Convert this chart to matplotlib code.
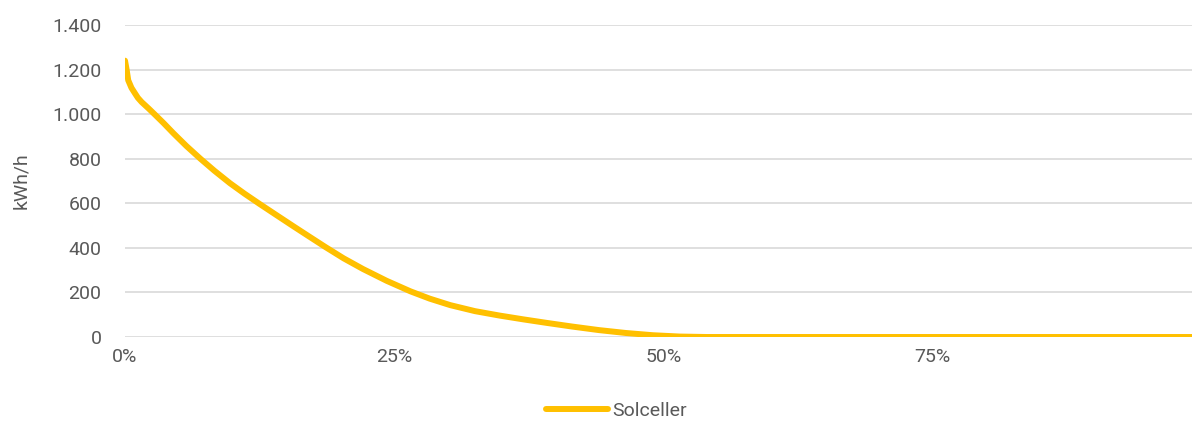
import matplotlib
matplotlib.use("Agg")
import matplotlib.pyplot as plt
from matplotlib.ticker import FuncFormatter, MultipleLocator

plt.rcParams['font.family'] = ['Roboto', 'DejaVu Sans']

# Varighedskurve for solceller (andel af årets timer, kWh/h)
andel_pct = [0.0, 0.15, 0.3, 0.6, 0.93, 1.2, 1.55, 2.2, 2.8, 3.6, 4.5, 5.7,
             7.0, 8.3, 9.75, 11.1, 12.5, 14.0, 15.6, 17.0, 18.6, 20.3, 22.1,
             24.3, 26.5, 28.3, 30.2, 32.5, 34.8, 37.0, 39.2, 41.5, 44.0,
             46.5, 49.0, 51.5, 54.0, 60.0, 70.0, 80.0, 90.0, 100.0]
solceller = [1240, 1200, 1152, 1118, 1093, 1073, 1054, 1025, 997, 959, 914,
             857, 800, 746, 690, 643, 597, 549, 498, 454, 404, 353, 305,
             252, 205, 172, 143, 116, 96, 79, 63, 47, 31, 18, 8, 2, 0, 0,
             0, 0, 0, 0]
x_ticks = [0, 25, 50, 75]

fig = plt.figure(figsize=(11.92, 4.23), dpi=100)
ax = fig.add_axes([125 / 1192, 86 / 423, 1067 / 1192, 312 / 423])

ax.plot([v / 100 for v in andel_pct], solceller, color='#FFC000',
        linewidth=4.3, solid_capstyle='round', solid_joinstyle='round',
        label='Solceller', zorder=3)

ax.set_xlim(0, 1067 / 1077)
ax.set_ylim(0, 1400)
ax.yaxis.set_major_locator(MultipleLocator(200))
ax.yaxis.set_major_formatter(FuncFormatter(lambda v, p: f"{int(v):,}".replace(",", ".")))
ax.set_xticks([t / 100 for t in x_ticks])
ax.set_xticklabels([f"{t}%" for t in x_ticks])

ax.grid(axis='y', color='#D9D9D9', linewidth=1.2)
for s in ax.spines.values():
    s.set_visible(False)
ax.tick_params(length=0, labelsize=14, labelcolor='#595959')
ax.tick_params(axis='y', pad=17)
ax.tick_params(axis='x', pad=8)
ax.set_ylabel("kWh/h", fontsize=14, color='#595959', labelpad=16)

fig.legend(loc='center', bbox_to_anchor=(0.517, 0.028), frameon=False,
           fontsize=14, labelcolor='#595959', handlelength=3.2,
           handletextpad=0.2)

fig.savefig("out.png", dpi=100)
